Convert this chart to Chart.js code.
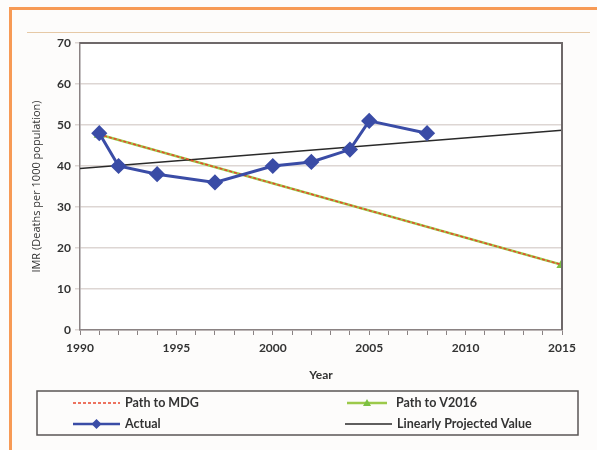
<!DOCTYPE html>
<html>
<head>
<meta charset="utf-8">
<script src="https://cdn.jsdelivr.net/npm/chart.js@4.4.1/dist/chart.umd.min.js"></script>
<style>
  html, body { margin: 0; padding: 0; background: #fdfcfb; }
  #wrap { width: 597px; height: 450px; position: relative; }
</style>
</head>
<body>
<div id="wrap"><canvas id="myChart" width="597" height="450"></canvas></div>
<script>
// years / values
const actualYears = [1991, 1992, 1994, 1997, 2000, 2002, 2004, 2005, 2008];
const actualIMR = [48, 40, 38, 36, 40, 41, 44, 51, 48];
const mdgYears = [1991, 2015];
const mdgIMR = [47.7, 15.9];
const v2016Years = [1991, 2015];
const v2016IMR = [47.7, 15.9];
const projYears = [1990, 2015];
const projIMR = [39.4, 48.7];

const seriesNames = ["Path to MDG", "Path to V2016", "Actual", "Linearly Projected Value"];

const toXY = (xs, ys) => xs.map((x, i) => ({ x: x, y: ys[i] }));
const font = "Lato, 'Open Sans', sans-serif";

const frame = {
  id: "frame",
  beforeDraw(chart) {
    const c = chart.ctx;
    const a = chart.chartArea;
    c.save();
    c.fillStyle = "#f79a55";
    c.fillRect(9, 7, 588, 3);
    c.fillRect(9, 7, 3, 443);
    c.fillStyle = "#e6c9a6";
    c.fillRect(27, 32, 563, 1);
    c.fillStyle = "#ffffff";
    c.fillRect(a.left, a.top, a.right - a.left, a.bottom - a.top);
    c.restore();
  },
  afterDatasetsDraw(chart) {
    const c = chart.ctx;
    const a = chart.chartArea;
    c.save();
    c.strokeStyle = "#6e6869";
    c.lineWidth = 2;
    c.beginPath();
    c.moveTo(a.left, a.top);
    c.lineTo(a.right, a.top);
    c.lineTo(a.right, a.bottom);
    c.stroke();
    c.restore();
  },
  afterDraw(chart) {
    const c = chart.ctx;
    c.save();
    c.strokeStyle = "#5a5556";
    c.lineWidth = 1.5;
    c.strokeRect(37, 391, 541, 44);
    // [x, y, line length] for each legend entry
    const spots = [[73, 403, 47], [347, 403, 40], [73, 424, 47], [345, 424, 47]];
    c.font = "bold 12.5px " + font;
    c.textBaseline = "middle";
    chart.data.datasets.forEach((ds, k) => {
      const [x0, y0, w] = spots[k];
      c.strokeStyle = ds.borderColor;
      c.lineWidth = Math.min(ds.borderWidth, 2.5);
      c.setLineDash(ds.borderDash || []);
      c.beginPath();
      c.moveTo(x0, y0);
      c.lineTo(x0 + w, y0);
      c.stroke();
      c.setLineDash([]);
      if (ds.pointStyle === "rectRot") {
        c.fillStyle = ds.pointBackgroundColor;
        c.beginPath();
        c.moveTo(x0 + w / 2, y0 - 5);
        c.lineTo(x0 + w / 2 + 5, y0);
        c.lineTo(x0 + w / 2, y0 + 5);
        c.lineTo(x0 + w / 2 - 5, y0);
        c.closePath();
        c.fill();
      } else if (ds.pointStyle === "triangle") {
        c.fillStyle = ds.pointBackgroundColor;
        c.beginPath();
        c.moveTo(x0 + w / 2, y0 - 4);
        c.lineTo(x0 + w / 2 + 4, y0 + 3);
        c.lineTo(x0 + w / 2 - 4, y0 + 3);
        c.closePath();
        c.fill();
      }
      c.fillStyle = "#333";
      c.fillText(ds.label, x0 + (k === 1 ? 49 : w + 5), y0);
    });
    c.restore();
  }
};

new Chart("myChart", {
  type: "line",
  data: {
    datasets: [
      {
        label: seriesNames[0],
        data: toXY(mdgYears, mdgIMR),
        borderColor: "#e8452c",
        borderWidth: 1.5,
        borderDash: [3, 2],
        pointRadius: 0,
        order: 1
      },
      {
        label: seriesNames[1],
        data: toXY(v2016Years, v2016IMR),
        borderColor: "#9cc94a",
        borderWidth: 2.5,
        pointStyle: "triangle",
        pointRadius: 4,
        pointBackgroundColor: "#7cc142",
        pointBorderColor: "#7cc142",
        order: 2
      },
      {
        label: seriesNames[2],
        data: toXY(actualYears, actualIMR),
        borderColor: "#3a4ca6",
        borderWidth: 3,
        pointStyle: "rectRot",
        pointRadius: 6,
        pointBackgroundColor: "#3a4ca6",
        pointBorderColor: "#3a4ca6",
        order: 0
      },
      {
        label: seriesNames[3],
        data: toXY(projYears, projIMR),
        borderColor: "#2a2a2a",
        borderWidth: 1.5,
        pointRadius: 0,
        order: 1
      }
    ]
  },
  options: {
    responsive: false,
    animation: false,
    layout: { padding: { left: 27, top: 43, right: 35, bottom: 65 } },
    plugins: { legend: { display: false }, tooltip: { enabled: false } },
    scales: {
      x: {
        type: "linear",
        min: 1990,
        max: 2015,
        afterFit(s) { s.height = 55; },
        ticks: {
          stepSize: 1,
          autoSkip: false,
          maxRotation: 0,
          padding: 6,
          color: "#333",
          font: { family: font, size: 12, weight: "bold" },
          callback: v => (v % 5 === 0 ? v : "")
        },
        grid: { drawOnChartArea: false, tickLength: 5, color: "#8a8283" },
        border: { color: "#8a8283", width: 1.5 },
        title: {
          display: true,
          text: "Year",
          color: "#333",
          padding: { top: 0, bottom: 3 },
          font: { family: font, size: 12, weight: "bold" }
        }
      },
      y: {
        min: 0,
        max: 70,
        afterFit(s) { s.width = 53; },
        ticks: {
          stepSize: 10,
          padding: 4,
          color: "#333",
          font: { family: font, size: 12, weight: "bold" }
        },
        grid: { color: "#ddd6d3", lineWidth: 1.5, tickLength: 5 },
        border: { color: "#8a8283", width: 1.5 },
        title: {
          display: true,
          text: "IMR (Deaths per 1000 population)",
          color: "#333",
          padding: { top: 3, bottom: 0 },
          font: { family: "'Open Sans', sans-serif", size: 11 }
        }
      }
    }
  },
  plugins: [frame]
});
</script>
</body>
</html>
